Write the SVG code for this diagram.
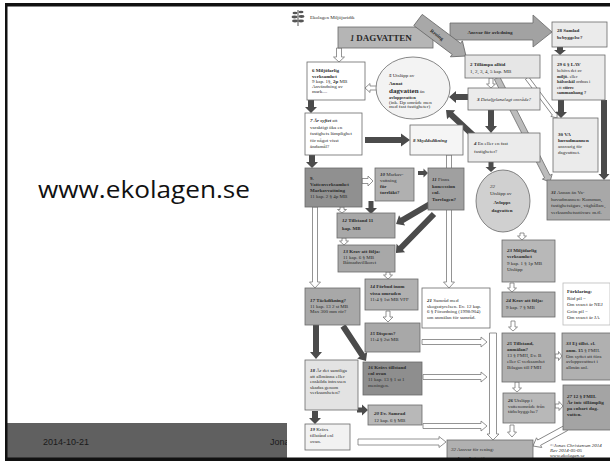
<svg xmlns="http://www.w3.org/2000/svg" width="610" height="461" viewBox="0 0 610 461">
<style>
.t{font-family:"Liberation Serif","Times New Roman",serif;font-size:5px;fill:#2a2a2a}
.s{font-size:4.5px}
.b{font-weight:bold}
.i{font-style:italic}
.bx{stroke:#6a6a6a;stroke-width:0.8}
.ho{fill:#ffffff;stroke:#787878;stroke-width:0.8}
.dk{fill:#4b4b4b}
.gb{fill:#bcbcbc;stroke:#777;stroke-width:0.8}
</style>
<rect x="0" y="0" width="610" height="461" fill="#ffffff"/>
<g id="slide">
  <rect x="7" y="423" width="282" height="35" fill="#606060"/>
  <text x="43" y="445" font-family="Liberation Sans, Arial, sans-serif" font-size="9" fill="#1a1a1a">2014-10-21</text>
  <text x="270" y="445" font-family="Liberation Sans, Arial, sans-serif" font-size="9" fill="#1a1a1a">Jonas</text>
  <text x="38" y="198" font-family="Open Sans, Liberation Sans, sans-serif" font-size="23" fill="#111" textLength="212" lengthAdjust="spacingAndGlyphs">www.ekolagen.se</text>
</g>
<rect x="287" y="7" width="323" height="451" fill="#ffffff"/>
<g id="logo">
  <path d="M298 26 L298 10" stroke="#555" stroke-width="1"/>
  <ellipse cx="295" cy="13" rx="2.5" ry="1.3" fill="#555"/>
  <ellipse cx="301" cy="12" rx="2.5" ry="1.3" fill="#555"/>
  <ellipse cx="294.5" cy="17" rx="3" ry="1.4" fill="#555"/>
  <ellipse cx="301.5" cy="16.5" rx="3" ry="1.4" fill="#555"/>
  <ellipse cx="295" cy="21" rx="3" ry="1.4" fill="#555"/>
  <ellipse cx="301" cy="21" rx="3" ry="1.4" fill="#555"/>
  <text class="t" x="310" y="19" font-size="5.5" fill="#555">Ekolagen Miljöjuridik</text>
</g>
<g id="connectors">
  <polygon class="gb" transform="translate(497,78) rotate(63)" points="0,-3 110.7,-3 110.7,-5.5 116.7,0 110.7,5.5 110.7,3 0,3"/>
  <polygon class="ho" transform="translate(527,78) rotate(53.1)" points="0,-2 45,-2 45,-4 50,0 45,4 45,2 0,2"/>
  <polygon class="ho" points="336.5,48 341.5,48 341.5,57 344.5,57 339,62 333.5,57 336.5,57"/>
  <polygon class="ho" points="377,86 370,86 370,83.5 365,88 370,92.5 370,90 377,90"/>
  <polygon class="ho" points="489,78 493,78 493,84 495.5,84 491,88 486.5,84 489,84"/>
  <polygon class="ho" points="362,178.5 368,178.5 368,176 373,181 368,186 368,183.5 362,183.5"/>
  <polygon class="ho" points="340,207 344,207 344,209.5 346.5,209.5 342,213 337.5,209.5 340,209.5"/>
  <polygon class="ho" points="342,238 346,238 346,241 348.5,241 344,245 339.5,241 342,241"/>
  <polygon class="ho" points="386,272 390,272 390,275 392.5,275 388,279 383.5,275 386,275"/>
  <polygon class="ho" points="386,311 390,311 390,317 393,317 388,322 383,317 386,317"/>
  <polygon class="ho" points="312.5,207 317.5,207 317.5,282 320.5,282 315,288 309.5,282 312.5,282"/>
  <polygon class="ho" points="446.5,155 451.5,155 451.5,282 454.5,282 449,288 443.5,282 446.5,282"/>
  <polygon class="ho" points="422,339.5 481,339.5 481,337 487,342 481,347 481,344.5 422,344.5"/>
  <polygon class="ho" points="423,374.5 481,374.5 481,372 487,377 481,382 481,379.5 423,379.5"/>
  <polygon class="ho" points="423,423.5 481,423.5 481,421 487,426 481,431 481,428.5 423,428.5"/>
  <polygon class="ho" points="489.5,333 496.5,333 496.5,434 499,434 493,440 487,434 489.5,434"/>
  <polygon class="ho" points="358,439 439,439 439,436.5 446,442 439,447.5 439,445 358,445"/>
  <polygon class="ho" points="520,233 524,233 524,236 526.5,236 522,240 517.5,236 520,236"/>
  <polygon class="ho" points="510,283 514,283 514,288 516.5,288 512,292 507.5,288 510,288"/>
  <polygon class="ho" points="511,321 515,321 515,327 517.5,327 513,331 508.5,327 511,327"/>
  <polygon class="ho" points="555,354 558.5,354 558.5,351.5 562,356 558.5,360.5 558.5,358 555,358"/>
  <polygon class="ho" points="515,382 519,382 519,388 521.5,388 517,392 512.5,388 515,388"/>
  <polygon class="ho" points="555,404 559,404 559,401.5 563,406 559,410.5 559,408 555,408"/>
  <polygon class="ho" points="510,425 514,425 514,432 516.5,432 512,437 507.5,432 510,432"/>
  <polygon class="ho" transform="translate(566,428) rotate(151.4)" points="0,-3 30.6,-3 30.6,-5.5 37.6,0 30.6,5.5 30.6,3 0,3"/>
  <polygon class="dk" points="308,100 314,100 314,107 317,107 311,113 305,107 308,107"/>
  <polygon class="dk" points="365,137 401,137 401,133.5 410,140 401,146.5 401,143 365,143"/>
  <polygon class="dk" points="309,155 315,155 315,162 318,162 312,168 306,162 309,162"/>
  <polygon class="dk" points="418,171 423.5,171 423.5,168.5 428,173 423.5,177.5 423.5,175 418,175"/>
  <polygon class="dk" points="368.5,201 373.5,201 373.5,208 377,208 371,214 365,208 368.5,208"/>
  <polygon class="dk" transform="translate(430,204) rotate(149.5)" points="0,-3 32.4,-3 32.4,-6 39.4,0 32.4,6 32.4,3 0,3"/>
  <polygon class="dk" transform="translate(434,214) rotate(134.3)" points="0,-3 47.5,-3 47.5,-6 54.5,0 47.5,6 47.5,3 0,3"/>
  <polygon class="dk" points="313,325 319,325 319,352 322,352 316,359 310,352 313,352"/>
  <polygon class="dk" transform="translate(343,326) rotate(56.7)" points="0,-3 34.9,-3 34.9,-6 41.9,0 34.9,6 34.9,3 0,3"/>
  <polygon class="dk" points="357,407.5 362,407.5 362,404.5 368,410 362,415.5 362,412.5 357,412.5"/>
  <polygon class="dk" points="312,411 318,411 318,418 321,418 315,424 309,418 312,418"/>
  <polygon class="dk" points="468,94 456,94 456,91 449,97 456,103 456,100 468,100"/>
  <polygon class="dk" transform="translate(474,136) rotate(222.9)" points="0,-3 31.2,-3 31.2,-6 38.2,0 31.2,6 31.2,3 0,3"/>
  <polygon class="dk" points="488,110 494,110 494,126 497,126 491,133 485,126 488,126"/>
  <polygon class="dk" points="488.5,162 493.5,162 493.5,167 496.5,167 491,172 485.5,167 488.5,167"/>
  <polygon class="dk" points="557,47 563,47 563,50 566,50 560,55 554,50 557,50"/>
  <polygon class="dk" points="558,100 564,100 564,112 567,112 561,118 555,112 558,112"/>
  <polygon class="dk" points="601,100 607,100 607,174 609.5,174 604,180 598.5,174 601,174"/>
</g>
<g id="n1">
  <rect class="bx" x="338" y="27" width="95" height="21" fill="#b5b5b5"/>
  <text class="t" x="381" y="41" text-anchor="middle"><tspan class="b i" font-size="8">1 </tspan><tspan class="b" font-size="9">DAGVATTEN</tspan></text>
</g>
<g id="ansvar">
  <polygon class="bx" points="450,23 533,23 533,15 552,32 533,47 533,40 450,40" fill="#a2a2a2"/>
  <text class="t b" x="490" y="34" text-anchor="middle" font-size="6.5">Ansvar för avledning</text>
</g>
<g id="rening">
  <g transform="translate(418,20) rotate(36.9)">
    <polygon class="bx" points="0,-7 48,-7 48,-10 60,0 48,10 48,7 0,7" fill="#a8a8a8"/>
    <text class="t b" x="24" y="2.2" text-anchor="middle" font-size="6.5">Rening</text>
  </g>
</g>
<g id="n28">
  <rect class="bx" x="552" y="22" width="55" height="25" fill="#ebebeb"/>
  <text class="t b" x="557" y="32">28 Samlad</text>
  <text class="t b" x="557" y="39">bebyggelse?</text>
</g>
<g id="n2">
  <rect class="bx" x="465" y="55" width="75" height="23" fill="#e6e6e6"/>
  <text class="t b" x="470" y="66" font-size="5.5">2 Tillämpa alltid</text>
  <text class="t" x="470" y="73" font-size="5.5">1, 2, 3, 4, 5 kap. MB</text>
</g>
<g id="n29">
  <rect class="bx" x="552" y="55" width="53" height="45" fill="#ebebeb"/>
  <text class="t b" x="557" y="66">29 6 § LAV</text>
  <text class="t s" x="557" y="72">behövs det av</text>
  <text class="t s" x="557" y="77.5"><tspan class="b">miljö-</tspan> eller</text>
  <text class="t s" x="557" y="83"><tspan class="b">hälsoskäl</tspan> ordnas i</text>
  <text class="t s" x="557" y="88.5">ett <tspan class="b">större</tspan></text>
  <text class="t s b" x="557" y="94">sammanhang ?</text>
</g>
<g id="n3">
  <rect class="bx" x="468" y="88" width="72" height="22" fill="#ebebeb"/>
  <text class="t i" x="504" y="101" text-anchor="middle"><tspan class="b">3</tspan> Detaljplanelagt område?</text>
</g>
<g id="n5">
  <ellipse class="bx" cx="413" cy="88" rx="37" ry="31" fill="#f3f3f3"/>
  <text class="t" x="389" y="77"><tspan class="b i">5</tspan> Utsläpp av</text>
  <text class="t b" x="389" y="85" font-size="7">Annat</text>
  <text class="t" x="389" y="93"><tspan class="b" font-size="7">dagvatten</tspan> än</text>
  <text class="t b s" x="389" y="99">avloppsvatten</text>
  <text class="t" x="389" y="103.5" font-size="4.2">(ink. Dp område men</text>
  <text class="t" x="389" y="108" font-size="4.2">med fast fastigheter)</text>
</g>
<g id="n6">
  <rect class="bx" x="307" y="62" width="58" height="38" fill="#ffffff"/>
  <text class="t b" x="312" y="72">6 Miljöfarlig</text>
  <text class="t b" x="312" y="77.5">verksamhet</text>
  <text class="t" x="312" y="83">9 kap. 1§, <tspan class="b">2p</tspan> MB</text>
  <text class="t" x="312" y="88">Användning av</text>
  <text class="t" x="312" y="93">mark.... </text>
</g>
<g id="n7">
  <rect class="bx" x="305" y="113" width="57" height="42" fill="#ffffff"/>
  <text class="t" x="310" y="122"><tspan class="b i">7 Är syftet</tspan> att</text>
  <text class="t" x="310" y="128.5">varaktigt öka en</text>
  <text class="t" x="310" y="135">fastighets lämplighet</text>
  <text class="t" x="310" y="141.5">för något visst</text>
  <text class="t" x="310" y="148">ändamål?</text>
</g>
<g id="n8">
  <rect class="bx" x="410" y="125" width="53" height="30" fill="#f5f5f5"/>
  <text class="t b i" x="413" y="142" font-size="4.8">8 Skyddsdikning</text>
</g>
<g id="n4">
  <rect class="bx" x="468" y="133" width="72" height="29" fill="#ebebeb"/>
  <text class="t" x="474" y="145"><tspan class="b i">4</tspan> En eller en fast</text>
  <text class="t" x="474" y="153">fastigheter?</text>
</g>
<g id="n30">
  <rect class="bx" x="553" y="118" width="45" height="54" fill="#ebebeb"/>
  <text class="t b" x="558" y="136">30 VA</text>
  <text class="t b" x="558" y="142">huvudmannen</text>
  <text class="t" x="558" y="148">ansvarig för</text>
  <text class="t" x="558" y="154">dagvattnet.</text>
</g>
<g id="n31">
  <rect class="bx" x="547" y="180" width="64" height="40" fill="#a8a8a8"/>
  <text class="t" x="551" y="194" font-size="4.6"><tspan class="b i">31</tspan> Annan än Va-</text>
  <text class="t" x="551" y="200.5" font-size="4.4">huvudmannen: Kommun,</text>
  <text class="t" x="551" y="207" font-size="4.3">fastighetsägare, väghållare,</text>
  <text class="t" x="551" y="213.5" font-size="4.3">verksamhetsutövare m.fl.</text>
</g>
<g id="n22">
  <ellipse class="bx" cx="503" cy="201" rx="27" ry="31" fill="#d0d0d0"/>
  <text class="t i" x="490" y="188">22</text>
  <text class="t" x="490" y="195" font-size="5.5">Utsläpp av</text>
  <text class="t b" x="502" y="204" font-size="7.5" text-anchor="middle">Avlopps</text>
  <text class="t b" x="502" y="212" font-size="7.5" text-anchor="middle">dagvatten</text>
</g>
<g id="n9">
  <rect class="bx" x="305" y="168" width="57" height="39" fill="#909090"/>
  <text class="t b" x="310" y="180">9.</text>
  <text class="t b" x="310" y="186">Vattenverksamhet</text>
  <text class="t b" x="310" y="192">Markavvattning</text>
  <text class="t" x="310" y="198">11 kap. 2 § 4p MB</text>
</g>
<g id="n10">
  <rect class="bx" x="375" y="168" width="39" height="33" fill="#b0b0b0"/>
  <text class="t" x="380" y="176"><tspan class="b i">10</tspan> Markav-</text>
  <text class="t" x="380" y="182">vattning</text>
  <text class="t b" x="380" y="188">för</text>
  <text class="t b" x="380" y="194">torrläkt?</text>
</g>
<g id="n11">
  <rect class="bx" x="428" y="168" width="36" height="42" fill="#a0a0a0"/>
  <text class="t" x="432" y="181"><tspan class="b i">11</tspan> Finns</text>
  <text class="t b" x="432" y="187.5">koncession</text>
  <text class="t b" x="432" y="194">enl.</text>
  <text class="t b" x="432" y="200.5">Torvlagen?</text>
</g>
<g id="n12">
  <rect class="bx" x="337" y="213" width="58" height="25" fill="#a8a8a8"/>
  <text class="t b" x="342" y="222"><tspan class="i">12</tspan> Tillstånd 11</text>
  <text class="t b" x="342" y="230">kap. MB</text>
</g>
<g id="n13">
  <rect class="bx" x="338" y="245" width="57" height="27" fill="#a8a8a8"/>
  <text class="t b" x="343" y="253"><tspan class="i">13</tspan> Krav att följa:</text>
  <text class="t" x="343" y="258.5">11 kap. 6 § MB</text>
  <text class="t" x="343" y="264">Båtnadsvillkoret</text>
</g>
<g id="n14">
  <rect class="bx" x="365" y="279" width="53" height="31" fill="#b0b0b0"/>
  <text class="t b" x="370" y="288"><tspan class="i">14</tspan> Förbud inom</text>
  <text class="t b" x="370" y="294.5">vissa områden</text>
  <text class="t" x="370" y="301">11:4 § 1st MB VFF</text>
</g>
<g id="n15">
  <rect class="bx" x="365" y="323" width="55" height="29" fill="#a8a8a8"/>
  <text class="t b" x="370" y="335"><tspan class="i">15</tspan> Dispens?</text>
  <text class="t" x="370" y="341">11:4 § 2st MB</text>
</g>
<g id="n16">
  <rect class="bx" x="363" y="362" width="59" height="33" fill="#8e8e8e"/>
  <text class="t b" x="368" y="369"><tspan class="i">16</tspan> Krävs tillstånd</text>
  <text class="t b" x="368" y="374.5">enl ovan</text>
  <text class="t" x="368" y="381">11 kap. 13 § 1 st 1</text>
  <text class="t" x="368" y="387">meningen.</text>
</g>
<g id="n17">
  <rect class="bx" x="305" y="288" width="55" height="37" fill="#a8a8a8"/>
  <text class="t b" x="310" y="302"><tspan class="i">17</tspan> Täckdikning?</text>
  <text class="t" x="310" y="307.5">11 kap. 13 2 st MB</text>
  <text class="t" x="310" y="313">Max 300 mm rör?</text>
</g>
<g id="n18">
  <rect class="bx" x="305" y="360" width="53" height="50" fill="#e3e3e3"/>
  <text class="t" x="310" y="372"><tspan class="b i">18</tspan> Är det samtliga</text>
  <text class="t" x="310" y="377.5">att allmänna eller</text>
  <text class="t" x="310" y="383">enskilda intressen</text>
  <text class="t" x="310" y="388.5">skadas genom</text>
  <text class="t" x="310" y="394">verksamheten?</text>
</g>
<g id="n19">
  <rect class="bx" x="305" y="424" width="45" height="26" fill="#f2f2f2"/>
  <text class="t" x="310" y="431"><tspan class="b i">19</tspan> Krävs</text>
  <text class="t" x="310" y="437">tillstånd enl</text>
  <text class="t" x="310" y="443">ovan.</text>
</g>
<g id="n20">
  <rect class="bx" x="368" y="405" width="54" height="20" fill="#b8b8b8"/>
  <text class="t b" x="374" y="415"><tspan class="i">20</tspan> Ev. Samråd</text>
  <text class="t" x="374" y="421.5">12 kap. 6 § MB</text>
</g>
<g id="n21">
  <rect class="bx" x="422" y="288" width="68" height="40" fill="#ffffff"/>
  <text class="t" x="427" y="302"><tspan class="b i">21</tspan> Samråd med</text>
  <text class="t" x="427" y="307.5">skogsstyrelsen. Ev. 12 kap.</text>
  <text class="t" x="427" y="313">6 § Förordning (1998:904)</text>
  <text class="t" x="427" y="318.5">om anmälan för samråd.</text>
</g>
<g id="n23">
  <rect class="bx" x="502" y="240" width="53" height="42" fill="#b8b8b8"/>
  <text class="t b" x="507" y="252"><tspan class="i">23</tspan> Miljöfarlig</text>
  <text class="t b" x="507" y="258">verksamhet</text>
  <text class="t" x="507" y="264.5">9 kap. 1 § 1p MB</text>
  <text class="t" x="507" y="270.5">Utsläpp</text>
</g>
<g id="n24">
  <rect class="bx" x="502" y="292" width="53" height="25" fill="#b0b0b0"/>
  <text class="t b" x="506" y="302"><tspan class="i">24</tspan> Krav att följa:</text>
  <text class="t" x="506" y="309">9 kap. 7 § MB</text>
</g>
<g id="legend">
  <rect x="563" y="283" width="47" height="42" fill="#ffffff" stroke="#bbbbbb" stroke-width="0.8"/>
  <text class="t b" x="567" y="293" font-size="8">Förklaring:</text>
  <text class="t" x="567" y="300">Röd pil =</text>
  <text class="t" x="567" y="306">Om svaret är NEJ</text>
  <text class="t" x="567" y="312.5">Grön pil =</text>
  <text class="t" x="567" y="318.5">Om svaret är JA</text>
</g>
<g id="n25">
  <rect class="bx" x="502" y="333" width="53" height="49" fill="#b0b0b0"/>
  <text class="t b" x="507" y="345"><tspan class="i">25</tspan> Tillstånd,</text>
  <text class="t b" x="507" y="351">anmälan?</text>
  <text class="t" x="507" y="357">13 § FMH, Ev. B</text>
  <text class="t" x="507" y="363">eller C verksamhet</text>
  <text class="t" x="507" y="368.5">Bilagan till FMH</text>
</g>
<g id="n33">
  <rect class="bx" x="562" y="333" width="49" height="47" fill="#b0b0b0"/>
  <text class="t b" x="566" y="345"><tspan class="i">33</tspan> Ej tillst. el.</text>
  <text class="t" x="566" y="351.5"><tspan class="b">anm. 15</tspan> § FMH.</text>
  <text class="t" x="566" y="357.5">Om syftet att föra</text>
  <text class="t" x="566" y="363">avloppsvattnet i</text>
  <text class="t" x="566" y="369">allmän anl.</text>
</g>
<g id="n26">
  <rect class="bx" x="503" y="393" width="52" height="30" fill="#b8b8b8"/>
  <text class="t" x="508" y="402"><tspan class="b i">26</tspan> Utsläpp i</text>
  <text class="t" x="508" y="407.5">vattenområde från</text>
  <text class="t" x="508" y="413">tätbebyggelse?</text>
</g>
<g id="n27">
  <rect class="bx" x="563" y="385" width="48" height="45" fill="#a4a4a4"/>
  <text class="t b" x="567" y="398"><tspan class="i">27</tspan> 12 § FMH.</text>
  <text class="t b" x="567" y="404">Är inte tillämplig</text>
  <text class="t b" x="567" y="410">på enbart dag-</text>
  <text class="t b" x="567" y="416">vatten.</text>
</g>
<g id="n32">
  <rect class="bx" x="447" y="440" width="86" height="22" fill="#b0b0b0"/>
  <text class="t" x="451" y="450.5" font-size="7.5" fill="#1e1e1e"><tspan class="i">32</tspan> Ansvar för rening:</text>
  <text class="t b" x="451" y="459.5" font-size="7.5" fill="#1e1e1e">verksamhetsutövaren</text>
</g>
<g id="copyright">
  <text class="t i" x="550" y="447" font-size="4.5" fill="#555">©Jonas Christensen 2014</text>
  <text class="t i" x="550" y="452" font-size="4.5" fill="#555">Rev 2014-05-05</text>
  <text class="t i" x="550" y="457" font-size="4.5" fill="#555">www.ekolagen.se</text>
</g>
<g id="frame">
  <rect x="5" y="3" width="605" height="3.5" fill="#111"/>
  <rect x="5" y="3" width="2.5" height="457" fill="#111"/>
  <rect x="5" y="457.5" width="605" height="3.5" fill="#111"/>
</g>
</svg>
